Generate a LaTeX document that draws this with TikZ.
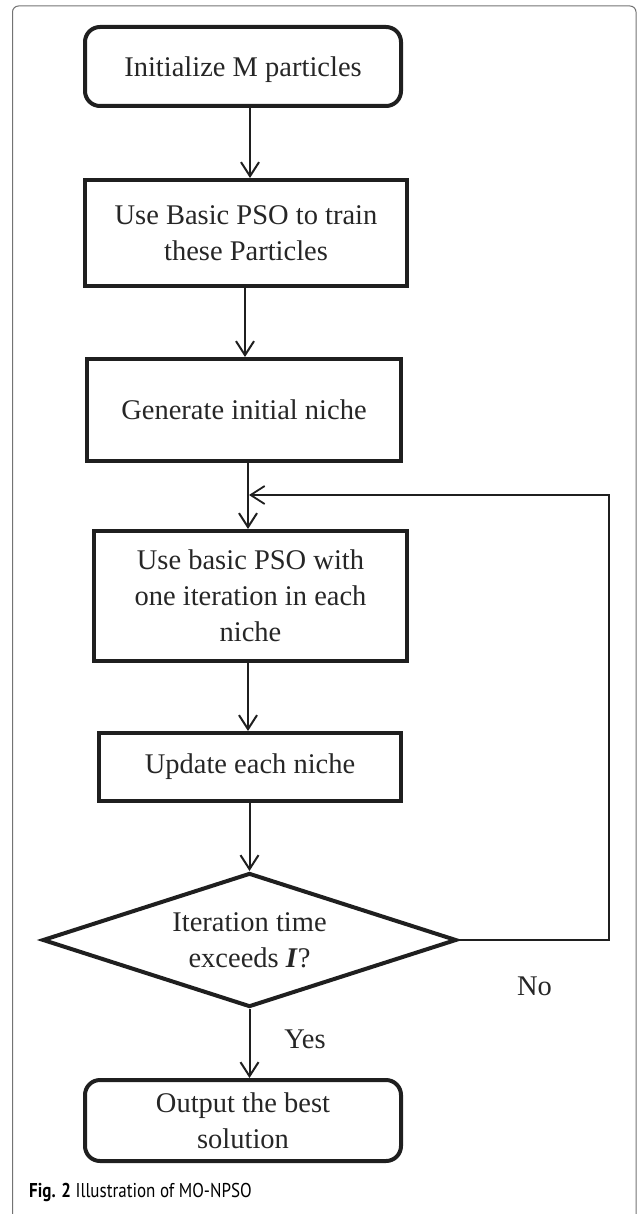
\documentclass[tikz,border=0pt]{standalone}
\usepackage{fontspec}
\setmainfont{Liberation Serif}
\newfontfamily\capfont[FakeStretch=0.85]{PT Sans}
\usetikzlibrary{arrows.meta,shapes.geometric}
\begin{document}
\begin{tikzpicture}[x=1pt,y=-1pt,
  txt/.style={font=\fontsize{28.5}{36}\selectfont, text=black!85},
  box/.style={draw=black!88, line width=4pt, txt, align=center, inner sep=0pt},
  rbox/.style={box, rounded corners=15pt},
  arr/.style={draw=black!88, line width=2pt, -{Straight Barb[length=14pt,width=18pt]}},
  loopline/.style={arr, line width=1.8pt},
  frame/.style={draw=black!55, line width=1pt, rounded corners=6pt}
]
\useasboundingbox (0,0) rectangle (637,1214);
\draw[frame] (12.5,6) rectangle (636,1240);

\node[rbox, minimum width=316pt, minimum height=79pt, text depth=0pt] (b1) at (243,66.5) {Initialize M particles};
\node[box, minimum width=322pt, minimum height=106pt] (b2) at (246,233) {Use Basic PSO to train\\these Particles};
\node[box, minimum width=314pt, minimum height=102pt] (b3) at (244,410) {Generate initial niche};
\node[box, minimum width=313pt, minimum height=130pt] (b4) at (250.5,596) {Use basic PSO with\\one iteration in each\\niche};
\node[box, minimum width=302pt, minimum height=68pt] (b5) at (250,767) {Update each niche};
\node[box, shape=diamond, shape aspect=3, minimum width=414pt, minimum height=134pt] (d) at (249.5,940) {Iteration time\\exceeds \textbf{\textit{I}}?};
\node[rbox, minimum width=316pt, minimum height=81pt] (b6) at (243,1120.5) {Output the best\\solution};

\coordinate (c250) at (250,0);
\coordinate (c245) at (245,0);
\coordinate (c248) at (248,0);
\coordinate (r) at (609,495);
\coordinate (j) at (249,495);

\draw[arr] (b1.south -| c250) -- (b2.north -| c250);
\draw[arr] (b2.south -| c245) -- (b3.north -| c245);
\draw[arr] (b3.south -| c248) -- (b4.north -| c248);
\draw[arr] (b4.south -| c248) -- (b5.north -| c248);
\draw[arr] (b5.south -| d.north) -- (d.north);
\draw[arr] (d.south) -- (b6.north -| d.south);
\draw[loopline] (d.east) -| (r) -- (j);

\node[txt, anchor=base] (yes) at (305,1048) {Yes};
\node[txt, anchor=base] (no) at (534.5,995) {No};
\node[anchor=base west, inner sep=0pt, font=\capfont\fontsize{20}{24}\selectfont] (cap) at (29,1197) {\textbf{Fig. 2} Illustration of MO-NPSO};
\end{tikzpicture}
\end{document}
